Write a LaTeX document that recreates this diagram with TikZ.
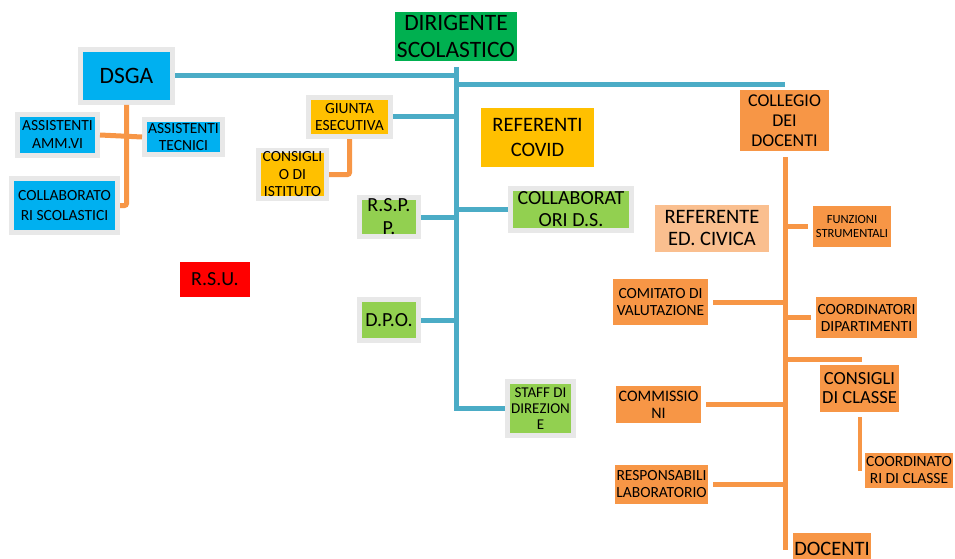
\documentclass[tikz,border=0pt]{standalone}
\usepackage{fontspec}
\setmainfont{Carlito}
\definecolor{bline}{HTML}{4BACC6}
\definecolor{oline}{HTML}{F79646}
\definecolor{frame}{HTML}{E8E8E8}
\definecolor{cyanbox}{HTML}{00B0F0}
\definecolor{darkgreen}{HTML}{00B050}
\definecolor{lightgreen}{HTML}{92D050}
\definecolor{amber}{HTML}{FFC000}
\definecolor{orangebox}{HTML}{F79646}
\definecolor{peach}{HTML}{FABF8F}
\newcommand{\fs}[2]{\fontsize{#1}{#2}\selectfont}
\tikzset{
  box/.style={rectangle, inner sep=0pt, align=center, text=black},
  framed/.style={box, draw=frame, line width=5pt},
  sz/.style 2 args={minimum width=#1pt, minimum height=#2pt},
  bconn/.style={draw=bline, line width=5pt},
  oconn/.style={draw=oline, line width=5pt},
}
\begin{document}
\begin{tikzpicture}[x=1pt,y=-1pt]
\useasboundingbox (0,0) rectangle (955,559);
% left block
\node[framed, fill=cyanbox, sz={92}{53}, font=\fs{23.5}{26}] (dsga) at (126.5,76) {DSGA};
\node[framed, fill=cyanbox, sz={80}{41}, font=\fs{15.5}{18}] (amm) at (57.5,135) {ASSISTENTI\\AMM.VI};
\node[framed, fill=cyanbox, sz={78}{35}, font=\fs{15.5}{17}] (tec) at (183.5,137) {ASSISTENTI\\TECNICI};
\node[framed, fill=cyanbox, sz={106}{54}, font=\fs{15.5}{20}] (colsc) at (64.5,205.5) {COLLABORATO\\RI SCOLASTICI};
\node[box, fill=red, sz={70}{35}, font=\fs{20}{22}] (rsu) at (215,279.5) {R.S.U.};
% centre
\node[box, fill=darkgreen, sz={122}{49}, font=\fs{23.5}{27}] (dir) at (456,36.5) {DIRIGENTE\\SCOLASTICO};
\node[framed, fill=amber, sz={82}{39}, font=\fs{15.5}{17.5}] (giunta) at (349.5,117) {GIUNTA\\ESECUTIVA};
\node[framed, fill=amber, sz={68}{48}, font=\fs{15.5}{17.5}] (consist) at (292.5,174.5) {CONSIGLI\\O DI\\ISTITUTO};
\node[framed, fill=lightgreen, sz={59}{39}, font=\fs{20}{23}] (rspp) at (389,217) {R.S.P.\\P.};
\node[framed, fill=lightgreen, sz={59}{41}, font=\fs{20}{22}] (dpo) at (389,320) {D.P.O.};
\node[box, fill=amber, sz={113}{59}, font=\fs{20.5}{25}] (covid) at (537.5,137.5) {REFERENTI\\COVID};
\node[framed, fill=lightgreen, sz={121}{42}, font=\fs{20}{22}] (colds) at (571,209.5) {COLLABORAT\\ORI D.S.};
\node[framed, fill=lightgreen, sz={66}{54}, font=\fs{15}{16}] (staff) at (540.5,408.5) {STAFF DI\\DIREZION\\E};
% right block
\node[box, fill=orangebox, sz={89}{61}, font=\fs{18}{20}] (coll) at (784.5,120.5) {COLLEGIO\\DEI\\DOCENTI};
\node[box, fill=peach, sz={114}{47}, font=\fs{20.5}{22}] (civica) at (712,228.5) {REFERENTE\\ED. CIVICA};
\node[box, fill=orangebox, sz={78}{41}, font=\fs{12.5}{14}] (funz) at (852,226.5) {FUNZIONI\\STRUMENTALI};
\node[box, fill=orangebox, sz={95}{46}, font=\fs{15.5}{17}] (comit) at (660.5,302) {COMITATO DI\\VALUTAZIONE};
\node[box, fill=orangebox, sz={101}{41}, font=\fs{15.5}{17}] (cdip) at (866.5,317.5) {COORDINATORI\\DIPARTIMENTI};
\node[box, fill=orangebox, sz={79}{47}, font=\fs{18.5}{19}] (ccl) at (859.5,388.5) {CONSIGLI\\DI CLASSE};
\node[box, fill=orangebox, sz={88}{35}, font=\fs{15.5}{17}] (ccls) at (909,470.5) {COORDINATO\\RI DI CLASSE};
\node[box, fill=orangebox, sz={85}{37}, font=\fs{16}{17}] (comm) at (658.5,404.5) {COMMISSIO\\NI};
\node[box, fill=orangebox, sz={93}{39}, font=\fs{15.5}{17}] (resp) at (661.5,484.5) {RESPONSABILI\\LABORATORIO};
\node[box, fill=orangebox, sz={78}{32}, font=\fs{20.5}{22}, anchor=north] (doc) at (832,533) {\raisebox{1pt}{DOCENTI}};
% blue connectors
\coordinate (ttop) at (456,67);
\coordinate (rtop) at (456,85);
\path[bconn] (ttop) -- (ttop |- staff.west) [rounded corners=0pt] -- (staff.west);
\path[bconn] (dsga.east) -- (dsga.east -| ttop);
\path[bconn] (rtop) -- (rtop -| coll.north);
\path[bconn] (giunta.east) -- (giunta.east -| ttop);
\path[bconn] (rspp.east) -- (rspp.east -| ttop);
\path[bconn] (dpo.east) -- (dpo.east -| ttop);
\path[bconn] (colds.west) -- (colds.west -| ttop);
% orange connectors left
\path[oconn, rounded corners=2pt] (dsga.south) -- (dsga.south |- colsc.east) -- (colsc.east);
\path[oconn] (amm.east) -- (tec.west);
\path[oconn, rounded corners=2pt] (giunta.south) -- (giunta.south |- consist.east) -- (consist.east);
% orange connectors right
\coordinate (otop) at (785,157);
\coordinate (obot) at (785,550);
\path[oconn] (otop) -- (obot);
\path[oconn, shorten >=5pt] (otop |- funz.west) -- (funz.west);
\path[oconn, shorten >=5pt] (otop |- cdip.west) -- (cdip.west);
\path[oconn, shorten <=5pt] (comit.east) -- (comit.east -| otop);
\path[oconn, shorten <=5pt] (comm.east) -- (comm.east -| otop);
\path[oconn, shorten <=5pt] (resp.east) -- (resp.east -| otop);
\coordinate (cctop) at (862,359);
\path[oconn] (cctop -| otop) -- (cctop);
\path[oconn, line width=4pt, shorten <=5pt] (ccl.south) -- (ccl.south |- ccls.center);
\end{tikzpicture}
\end{document}
